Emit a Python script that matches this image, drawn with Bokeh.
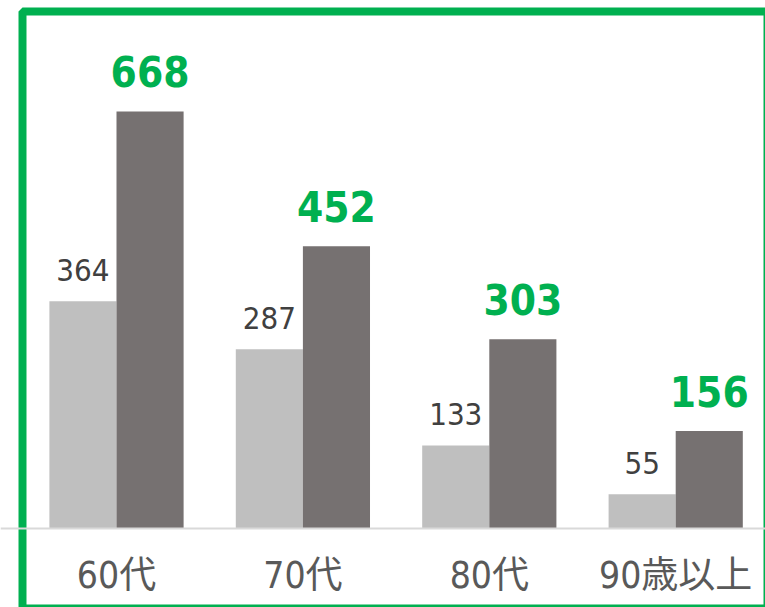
from bokeh.plotting import figure
from bokeh.models import ColumnDataSource, Range1d, Span
from bokeh.core.properties import value
from bokeh.embed import file_html
from bokeh.resources import INLINE

# ---- data ----
categories = ["60代", "70代", "80代", "90歳以上"]
series_light = [364, 287, 133, 55]
series_dark = [668, 452, 303, 156]

# ---- layout constants ----
W, H = 765, 607
PX_PER_X = 186.4           # pixels per category step
PX_PER_Y = 417.0 / 668.0   # pixels per value unit
X0_PX = 116.0              # pixel x of first category centre
BASE_PX = 528.0            # pixel y of the baseline (from top)

xs = -X0_PX / PX_PER_X
xe = xs + W / PX_PER_X
ys = -(H - BASE_PX) / PX_PER_Y
ye = BASE_PX / PX_PER_Y

def px_to_x(px):
    return xs + px / PX_PER_X

def py_to_y(py):
    return (BASE_PX - py) / PX_PER_Y

FONT = "'DejaVu Sans Condensed', 'Noto Sans CJK JP', sans-serif"
DODGE = 0.18
BAR_W = 0.36

idx = list(range(len(categories)))
src = ColumnDataSource(dict(
    x=idx,
    cat=categories,
    xl=[i - DODGE for i in idx],
    xd=[i + DODGE for i in idx],
    light=series_light,
    dark=series_dark,
    light_txt=[str(v) for v in series_light],
    dark_txt=[str(v) for v in series_dark],
))

p = figure(width=W, height=H, x_range=Range1d(xs, xe), y_range=Range1d(ys, ye),
           toolbar_location=None, output_backend="svg", min_border=0,
           outline_line_color=None)
p.axis.visible = False
p.grid.visible = False
p.background_fill_color = "white"
p.border_fill_color = "white"

# baseline
p.add_layout(Span(location=0, dimension="width", line_color="#D9D9D9", line_width=2))

# bars
p.vbar(x="xl", top="light", bottom=0, width=BAR_W, source=src,
       fill_color="#BFBFBF", line_color=None)
p.vbar(x="xd", top="dark", bottom=0, width=BAR_W, source=src,
       fill_color="#767171", line_color=None)

# value labels
p.text(x="xl", y="light", text="light_txt", source=src, y_offset=-31,
       text_align="center", text_baseline="alphabetic",
       text_font=value(FONT), text_font_size="31px", text_color="#404040")
p.text(x="xd", y="dark", text="dark_txt", source=src, y_offset=-40,
       text_align="center", text_baseline="alphabetic",
       text_font=value(FONT), text_font_size="42px", text_font_style="bold",
       text_color="#00B050")

# category labels
p.text(x="x", y=0, text="cat", source=src, y_offset=47,
       text_align="center", text_baseline="alphabetic",
       text_font=value(FONT), text_font_size="37px", text_color="#595959")

# green frame
p.quad(left=[px_to_x(22)], right=[px_to_x(767)], top=[py_to_y(11)], bottom=[py_to_y(608)],
       fill_color=None, line_color="#00B050", line_width=8)

open("out.html", "w").write(file_html(p, INLINE))
